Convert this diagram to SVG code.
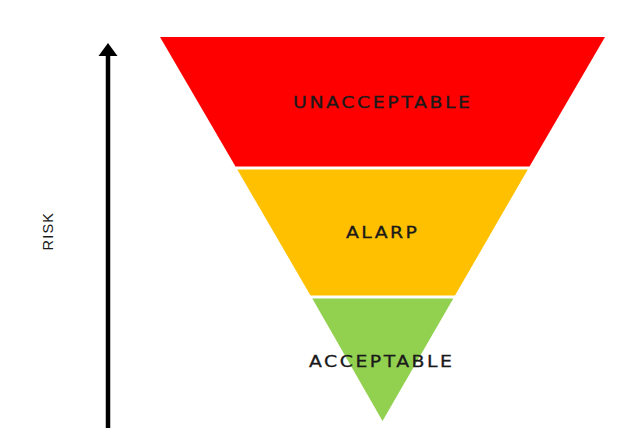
<svg xmlns="http://www.w3.org/2000/svg" width="630" height="441" viewBox="0 0 630 441">
<style>
.lbl{font-family:"DejaVu Sans","Liberation Sans",sans-serif;font-size:16px;fill:#1a1a1a;stroke:#1a1a1a;stroke-width:0.3;text-anchor:start}
.risk{font-family:"Liberation Sans",Arial,sans-serif;font-size:14.5px;fill:#1a1a1a}
</style>
<rect width="630" height="441" fill="#ffffff"/>
<g id="unacceptable">
<polygon points="160,37 605,37 529.5,166.5 235.5,166.5" fill="#FF0000"/>
<text class="lbl" transform="translate(381.5,107.5) scale(1.18,1)" x="-75" y="0" textLength="150" lengthAdjust="spacing">UNACCEPTABLE</text>
</g>
<g id="alarp">
<polygon points="237.3,169.5 527.8,169.5 455,295.5 310.5,295.5" fill="#FFC000"/>
<text class="lbl" transform="translate(381.5,237.5) scale(1.18,1)" x="-30.1" y="0" textLength="60.2" lengthAdjust="spacing">ALARP</text>
</g>
<g id="acceptable">
<polygon points="312.3,298.5 453.3,298.5 382.5,421" fill="#92D050"/>
<text class="lbl" transform="translate(380.5,367) scale(1.18,1)" x="-60.6" y="0" textLength="121.2" lengthAdjust="spacing">ACCEPTABLE</text>
</g>
<g id="connectors">
<line x1="108" y1="54" x2="108" y2="428" stroke="#000" stroke-width="4.5"/>
<polygon points="108,43 117.5,56 98.5,56" fill="#000"/>
</g>
<g id="risk-axis">
<text class="risk" transform="translate(53,250.5) rotate(-90)" x="0" y="0" textLength="37.5" lengthAdjust="spacing">RISK</text>
</g>
</svg>
